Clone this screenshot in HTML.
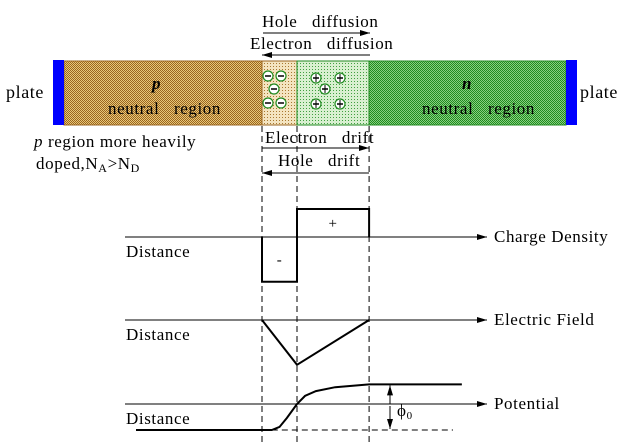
<!DOCTYPE html>
<html><head><meta charset="utf-8"><style>
html,body{margin:0;padding:0;background:#fff;}
svg{display:block;font-family:"Liberation Serif",serif;}
svg text{letter-spacing:0.6px;}
</style></head><body>
<svg id="c" width="640" height="442" viewBox="0 0 640 442">
<defs>
<pattern id="pBrown" width="2" height="2" patternUnits="userSpaceOnUse"><rect width="2" height="2" fill="#e8c878"/><rect width="1" height="1" fill="#9a6420"/><rect x="1" y="1" width="1" height="1" fill="#9a6420"/></pattern>
<pattern id="pLight" width="3" height="3" patternUnits="userSpaceOnUse"><rect width="3" height="3" fill="#f4e4c0"/><rect width="1" height="1" fill="#a87830"/></pattern>
<pattern id="nLight" width="3" height="3" patternUnits="userSpaceOnUse"><rect width="3" height="3" fill="#d8f0d0"/><rect width="1" height="1" fill="#40a040"/></pattern>
<pattern id="nGreen" width="2" height="2" patternUnits="userSpaceOnUse"><rect width="2" height="2" fill="#88d080"/><rect width="1" height="1" fill="#208a20"/><rect x="1" y="1" width="1" height="1" fill="#208a20"/></pattern>
<marker id="ar" viewBox="0 0 10 6" refX="10" refY="3" markerWidth="12" markerHeight="6" markerUnits="userSpaceOnUse" orient="auto"><path d="M0,0 L10,3 L0,6 z" fill="#000"/></marker>
</defs>

<rect x="64" y="61" width="198" height="64" fill="url(#pBrown)" stroke="#9a6420" stroke-width="1"/>
<rect x="262" y="61" width="35" height="64" fill="url(#pLight)" stroke="#9a6420" stroke-width="1"/>
<rect x="297" y="61" width="72" height="64" fill="url(#nLight)" stroke="#208a20" stroke-width="1"/>
<rect x="369" y="61" width="197" height="64" fill="url(#nGreen)" stroke="#208a20" stroke-width="1"/>
<rect x="53" y="60" width="11" height="65" fill="#0000ff"/>
<rect x="566" y="60" width="11" height="65" fill="#0000ff"/>
<text x="6" y="98" font-size="18">plate</text>
<text x="580" y="98" font-size="18">plate</text>
<text x="152" y="89" font-size="17" font-weight="bold" font-style="italic">p</text>
<text x="108" y="114" font-size="17">neutral &#160;&#160;region</text>
<text x="462" y="89" font-size="17" font-weight="bold" font-style="italic">n</text>
<text x="422" y="114" font-size="17">neutral &#160;&#160;region</text>
<g id="ions"></g>

<text x="262" y="27" font-size="17">Hole &#160;&#160;diffusion</text>
<line x1="263" y1="33" x2="370" y2="33" stroke="#000" marker-end="url(#ar)"/>
<text x="250" y="49" font-size="17">Electron &#160;&#160;diffusion</text>
<line x1="370" y1="55" x2="262" y2="55" stroke="#000" marker-end="url(#ar)"/>
<text x="34" y="147" font-size="17"><tspan font-style="italic">p</tspan> region more heavily</text>
<text x="36" y="169" font-size="17">doped,N<tspan font-size="12" dy="3">A</tspan><tspan dy="-3">&gt;N</tspan><tspan font-size="12" dy="3">D</tspan></text>
<text x="265" y="143" font-size="17">Electron &#160;&#160;drift</text>
<line x1="262" y1="148" x2="369" y2="148" stroke="#000" marker-end="url(#ar)"/>
<text x="278" y="166" font-size="17">Hole &#160;&#160;drift</text>
<line x1="369" y1="173" x2="262" y2="173" stroke="#000" marker-end="url(#ar)"/>

<g id="guides"></g>
<g id="plots"></g>
</svg>
<script>
const edges = [-1, 0, 2.06];
const chargeSegments = [[-1, 0], [0, 2.06]];
const chargeValues = [-1.6, 1.0];
const fieldD = [-1, 0, 2.06];
const fieldValues = [0, -1.6, 0];
const potentialD = [-4.6, -0.72, -0.5, -0.29, 0, 0.23, 0.54, 1.09, 2.06, 4.71];
const potentialValues = [-0.93, -0.93, -0.82, -0.5, 0, 0.29, 0.46, 0.6, 0.7, 0.7];
const axisLabels = ["Charge Density", "Electric Field", "Potential"];

const NS = "http://www.w3.org/2000/svg";
const X = d => 297 + d * 35;
const Y = (axisY, v) => axisY - v * 28;
function mk(tag, attrs, parent) {
  const e = document.createElementNS(NS, tag);
  for (const k in attrs) e.setAttribute(k, attrs[k]);
  parent.appendChild(e);
  return e;
}
const guides = document.getElementById('guides');
const plots = document.getElementById('plots');
const ions = document.getElementById('ions');

[[268,70,'-'],[281,70,'-'],[274,83,'-'],[268,97,'-'],[281,97,'-']].concat(
 [[316,72,'+'],[340,72,'+'],[325,83,'+'],[316,98,'+'],[340,98,'+']]).forEach(p => {
  const c = mk('circle', {cx:p[0], cy:p[1]+6, r:5, fill:'#fff', stroke:'#208a20', 'stroke-width':1.2}, ions);
  
  
  mk('line', {x1:p[0]-3, y1:p[1]+6, x2:p[0]+3, y2:p[1]+6, stroke:'#000', 'stroke-width':1.5}, ions);
  if (p[2] === '+') mk('line', {x1:p[0], y1:p[1]+2, x2:p[0], y2:p[1]+10, stroke:'#000', 'stroke-width':1}, ions);
});

edges.forEach(d => {
  const l = mk('line', {x1:X(d), y1:126, x2:X(d), y2:442, stroke:'#000', 'stroke-dasharray':'6,4', 'stroke-width':1}, guides);
  
  
});

const axesY = [237, 320, 404];
axesY.forEach((ay, i) => {
  const a = mk('line', {x1:125, y1:ay, x2:487, y2:ay, stroke:'#000', 'stroke-width':1, 'marker-end':'url(#ar)'}, plots);
  
  
  const t = mk('text', {x:494, y:ay+5, 'font-size':17}, plots);
  t.textContent = axisLabels[i];
  
  
  const t2 = mk('text', {x:126, y:ay+20, 'font-size':17}, plots);
  t2.textContent = 'Distance';
  
  
});

chargeSegments.forEach((s, i) => {
  const y0 = axesY[0], y1 = Y(axesY[0], chargeValues[i]);
  const p = mk('polyline', {points:`${X(s[0])},${y0} ${X(s[0])},${y1} ${X(s[1])},${y1} ${X(s[1])},${y0}`, fill:'none', stroke:'#000', 'stroke-width':2}, plots);
  
  
  const t = mk('text', {x:(X(s[0])+X(s[1]))/2, y:(y0+y1)/2+5, 'font-size':15, 'text-anchor':'middle'}, plots);
  t.textContent = chargeValues[i] < 0 ? '-' : '+';
  
  
});

const ef = mk('polyline', {points: fieldD.map((d,i)=>`${X(d)},${Y(axesY[1], fieldValues[i])}`).join(' '), fill:'none', stroke:'#000', 'stroke-width':2}, plots);



const pot = mk('polyline', {points: potentialD.map((d,i)=>`${X(d)},${Y(axesY[2], potentialValues[i])}`).join(' '), fill:'none', stroke:'#000', 'stroke-width':2}, plots);


const lowY = Y(axesY[2], potentialValues[0]);
const highY = Y(axesY[2], potentialValues[potentialValues.length-1]);
const base = mk('line', {x1:X(potentialD[1]), y1:lowY, x2:453, y2:lowY, stroke:'#000', 'stroke-dasharray':'6,4'}, plots);


const a1 = mk('line', {x1:390, y1:404, x2:390, y2:highY+1, stroke:'#000', 'marker-end':'url(#ar)'}, plots);


const a2 = mk('line', {x1:390, y1:406, x2:390, y2:lowY-1, stroke:'#000', 'marker-end':'url(#ar)'}, plots);


const phi = mk('text', {x:397, y:416, 'font-size':17}, plots);
phi.innerHTML = 'ϕ<tspan font-size="11" dy="3">0</tspan>';


</script>
</body></html>
